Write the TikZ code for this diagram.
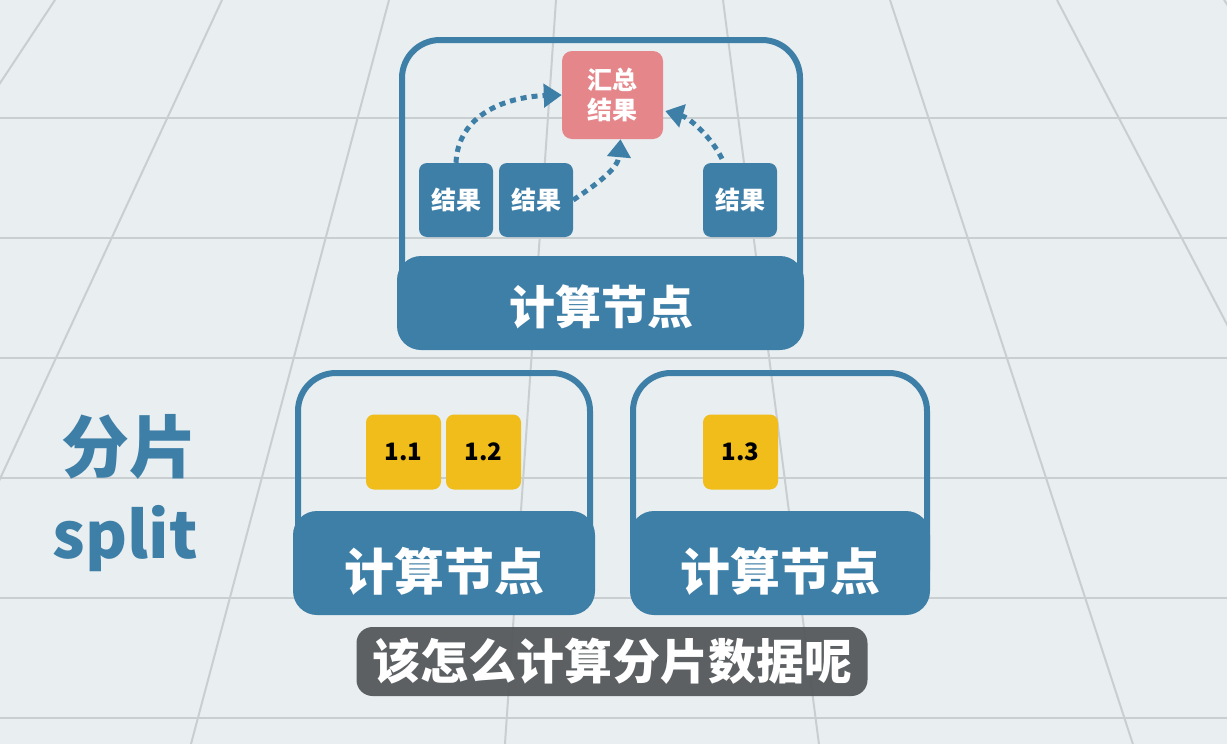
\documentclass[tikz,border=0pt]{standalone}
\usepackage{fontspec}
\setmainfont{Noto Sans}
\newfontfamily\cjk{Noto Sans CJK SC}
\usetikzlibrary{arrows.meta,calc}
\definecolor{bg}{HTML}{E9EEF0}
\definecolor{gridc}{HTML}{C9CED1}
\definecolor{nodeblue}{HTML}{3E7FA7}
\definecolor{pinkc}{HTML}{E5868B}
\definecolor{yell}{HTML}{F0BD1B}
\definecolor{subbg}{HTML}{55595B}
\begin{document}
\begin{tikzpicture}[x=1pt,y=-1pt,
  frame/.style={draw=nodeblue, line width=6pt, rounded corners=38pt, inner sep=0pt},
  band/.style={fill=nodeblue, rounded corners=24pt, inner sep=0pt},
  bandtext/.style={text=white, inner sep=0pt, font=\cjk\bfseries\fontsize{#1}{#1}\selectfont},
  res/.style={fill=nodeblue, rounded corners=8pt, minimum width=74pt, minimum height=74pt, inner sep=0pt, text=white, font=\cjk\bfseries\fontsize{25}{25}\selectfont},
  sum/.style={fill=pinkc, rounded corners=10pt, minimum width=101pt, minimum height=88pt, inner sep=0pt, text=white, align=center, font=\cjk\bfseries\fontsize{25}{30}\selectfont},
  shard/.style={fill=yell, rounded corners=8pt, minimum width=75pt, minimum height=75pt, inner sep=0pt, text=black, font=\cjk\bfseries\fontsize{24}{24}\selectfont},
  arr/.style={draw=nodeblue, line width=5pt, dash pattern=on 6pt off 5pt, -{Triangle[width=23pt,length=18pt]}},
]
\useasboundingbox (0,0) rectangle (1227,744);
\fill[bg] (0,0) rectangle (1227,744);
\begin{scope}
\clip (0,0) rectangle (1227,744);
\foreach \x in {55,222,389,556,723,890,1057,1224}{
  \draw[gridc, line width=2pt] (\x,0) -- ({614+1.88*(\x-614)},744);
}
\foreach \y in {118,238,358,478,598,718}{
  \draw[gridc, line width=2pt] (0,\y) -- (1227,\y);
}
\end{scope}

% top compute node
\node[frame, minimum width=398pt, minimum height=305pt] (f1) at (601,192.5) {};
\node[band, minimum width=407pt, minimum height=94pt] (b1) at (600.5,303) {};
\node[bandtext=46] (t1) at (601,307) {计算节点};

\node[sum] (p) at (612.5,95) {汇总\\结果};
\node[res] (r1) at (456,200) {结果};
\node[res] (r2) at (536,200) {结果};
\node[res] (r3) at (740,200) {结果};

\draw[arr] (r1.north) .. controls (458,115) and (505,97) .. (p.west);
\draw[arr] (r2.east) .. controls (600,182) and (618,168) .. ($(p.south)+(8,0)$);
\draw[arr] ($(r3.north)+(-18,-4)$) .. controls (712,138) and (690,118) .. ($(p.east)+(2,16)$);

% bottom compute nodes
\node[frame, minimum width=292pt, minimum height=235pt] (f2) at (444,490.5) {};
\node[band, minimum width=302pt, minimum height=104pt] (b2) at (444,563) {};
\node[bandtext=50] (t2) at (444,571) {计算节点};
\node[frame, minimum width=294pt, minimum height=235pt] (f3) at (780,490.5) {};
\node[band, minimum width=300pt, minimum height=104pt] (b3) at (780,563) {};
\node[bandtext=50] (t3) at (780,571) {计算节点};

\node[shard] (s1) at (403.5,452) {1.1};
\node[shard] (s2) at (483.5,452) {1.2};
\node[shard] (s3) at (740.5,452) {1.3};

% labels
\node[text=nodeblue, inner sep=0pt, font=\cjk\bfseries\fontsize{68}{68}\selectfont] (fp) at (129,447) {分片};
\node[text=nodeblue, inner sep=0pt, font=\cjk\bfseries\fontsize{64}{64}\selectfont] (sp) at (125,539) {split};

% subtitle
\node[fill=subbg, fill opacity=0.95, text opacity=1, rounded corners=16pt, minimum width=511pt, minimum height=69pt, inner sep=0pt, text=white, font=\cjk\bfseries\fontsize{48}{48}\selectfont] (sub) at (612,661.5) {该怎么计算分片数据呢};
\end{tikzpicture}
\end{document}
